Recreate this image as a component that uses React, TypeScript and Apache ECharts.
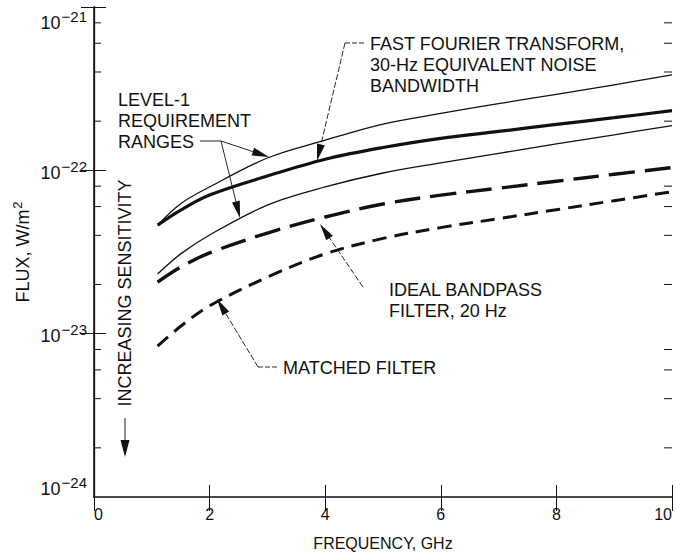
import React, { useEffect, useRef } from "react";
import * as echarts from "echarts";

// ---- data ----
const freqGHz = [1.1, 1.5, 2, 3, 4, 5, 6, 7, 8, 9, 10];
const levelUpper = [4.62e-23, 6.25e-23, 7.91e-23, 1.19e-22, 1.53e-22, 1.92e-22, 2.23e-22, 2.56e-22, 2.92e-22, 3.34e-22, 3.84e-22];
const fftNoise = [4.62e-23, 5.71e-23, 7.06e-23, 9.23e-23, 1.17e-22, 1.38e-22, 1.57e-22, 1.73e-22, 1.91e-22, 2.1e-22, 2.32e-22];
const levelLower = [2.32e-23, 3.08e-23, 4.02e-23, 6.13e-23, 7.91e-23, 9.63e-23, 1.11e-22, 1.27e-22, 1.45e-22, 1.65e-22, 1.88e-22];
const idealBandpass = [2.07e-23, 2.56e-23, 3.12e-23, 4.13e-23, 5.18e-23, 6.22e-23, 7.05e-23, 7.77e-23, 8.58e-23, 9.46e-23, 1.04e-22];
const matchedFilter = [8.4e-24, 1.11e-23, 1.48e-23, 2.22e-23, 3.08e-23, 3.83e-23, 4.46e-23, 5.06e-23, 5.74e-23, 6.52e-23, 7.4e-23];

const xTickValues = [0, 2, 4, 6, 8, 10];
const yMin = 1e-24;
const yMax = 1e-21;
const minorTickValues = [
  2e-24, 4e-24, 6e-24, 8e-24,
  2e-23, 4e-23, 6e-23, 8e-23,
  2e-22, 4e-22, 6e-22, 8e-22,
];

const FONT = '"Liberation Sans", Arial, Helvetica, sans-serif';
const INK = "#111";

function pairs(ys: number[]) {
  return freqGHz.map((x, i) => [x, ys[i]]);
}

function expText(v: number) {
  const e = Math.round(Math.log10(v));
  return `\u2212${Math.abs(e)}`;
}

function arrow(from: number[], to: number[], dash: number[] | null, len = 17, half = 4) {
  const dx = to[0] - from[0];
  const dy = to[1] - from[1];
  const d = Math.hypot(dx, dy);
  const ux = dx / d;
  const uy = dy / d;
  const bx = to[0] - ux * len;
  const by = to[1] - uy * len;
  return [
    {
      type: "line",
      shape: { x1: from[0], y1: from[1], x2: bx, y2: by },
      style: { stroke: INK, lineWidth: 0.9, lineDash: dash || undefined },
    },
    {
      type: "polygon",
      shape: {
        points: [
          [bx - uy * half, by + ux * half],
          [bx + uy * half, by - ux * half],
          [to[0], to[1]],
        ],
      },
      style: { fill: INK },
    },
  ];
}

function label(text: string, x: number, y: number) {
  return {
    type: "text",
    x,
    y,
    style: {
      text,
      fontSize: 18,
      fontFamily: FONT,
      fill: INK,
      lineHeight: 21,
      verticalAlign: "top",
      align: "left",
    },
  };
}

function seg(x1: number, y1: number, x2: number, y2: number, dash: number[] | null) {
  return {
    type: "line",
    shape: { x1, y1, x2, y2 },
    style: { stroke: INK, lineWidth: 0.9, lineDash: dash || undefined },
  };
}

function baseTok(extraTop: number, extraBottom: number) {
  return { fontSize: 18, fontFamily: FONT, color: INK, fill: INK, padding: [5 + extraTop, 0, extraBottom, 0] };
}
function supTok(extraTop: number, extraBottom: number) {
  return { fontSize: 15, fontFamily: FONT, color: INK, fill: INK, padding: [extraTop, 0, 8 + extraBottom, 1] };
}

export default function App() {
  const ref = useRef<HTMLDivElement>(null);

  useEffect(() => {
    document.body.style.margin = "0";
    const chart = echarts.init(ref.current!, null, { renderer: "svg", width: 676, height: 554 });

    const graphic: any[] = [
      // FFT annotation
      label("FAST FOURIER TRANSFORM,\n30-Hz EQUIVALENT NOISE\nBANDWIDTH", 370, 33),
      seg(345, 43, 366, 43, [5, 2]),
      ...arrow([345, 43], [317, 161], [6, 2]),
      // Level-1 annotation
      label("LEVEL-1\nREQUIREMENT\nRANGES", 118, 89),
      seg(200, 141, 221, 141, null),
      ...arrow([221, 141], [269, 157], null),
      ...arrow([221, 141], [240, 218], null),
      // Ideal bandpass annotation
      label("IDEAL BANDPASS\nFILTER, 20 Hz", 389, 279),
      ...arrow([363, 287], [320, 224], [6, 2]),
      // Matched filter annotation
      label("MATCHED FILTER", 283, 357),
      seg(258, 367, 279, 367, [5, 2]),
      ...arrow([258, 367], [217, 299], [6, 2]),
      // Increasing sensitivity
      {
        type: "text",
        x: 125,
        y: 293,
        rotation: Math.PI / 2,
        style: {
          text: "INCREASING SENSITIVITY",
          fontSize: 18,
          fontFamily: FONT,
          fill: INK,
          align: "center",
          verticalAlign: "middle",
        },
      },
      ...arrow([125, 418], [125, 457], null, 17, 4.5),
    ];

    const lineSeries = (name: string, ys: number[], width: number, dash: any) => ({
      name,
      type: "line",
      data: pairs(ys),
      smooth: 0.35,
      showSymbol: false,
      symbol: "none",
      silent: true,
      lineStyle: { color: INK, width, type: dash, cap: "butt" },
      z: 3,
    });

    chart.setOption({
      animation: false,
      backgroundColor: "#fff",
      textStyle: { fontFamily: FONT, color: INK },
      grid: {
        left: 94,
        right: 4,
        top: 7,
        bottom: 57,
        containLabel: false,
        outerBoundsMode: "none",
      },
      xAxis: [
        {
          type: "value",
          min: xTickValues[0],
          max: xTickValues[xTickValues.length - 1],
          interval: 2,
          position: "bottom",
          name: "FREQUENCY, GHz",
          nameLocation: "middle",
          nameGap: 38,
          nameMoveOverlap: false,
          nameTextStyle: { fontSize: 16, fontFamily: FONT, color: INK },
          axisLine: { show: true, lineStyle: { color: INK, width: 1.5 } },
          axisTick: { show: true, inside: true, length: 12, lineStyle: { color: INK, width: 1 } },
          axisLabel: {
            fontSize: 16,
            fontFamily: FONT,
            color: INK,
            margin: 9,
            hideOverlap: false,
            alignMinLabel: "left",
            alignMaxLabel: "right",
          },
          splitLine: { show: false },
        },
        {
          type: "value",
          min: xTickValues[0],
          max: xTickValues[xTickValues.length - 1],
          interval: 2,
          position: "top",
          axisLine: { show: true, lineStyle: { color: "#444", width: 1 } },
          axisTick: { show: true, inside: true, length: 14, lineStyle: { color: INK, width: 1 } },
          axisLabel: { show: false },
          splitLine: { show: false },
        },
      ],
      yAxis: [
        {
          type: "log",
          logBase: 10,
          min: yMin,
          max: yMax,
          position: "left",
          name: "FLUX, W/m{s|2}",
          nameLocation: "middle",
          nameGap: 60,
          nameMoveOverlap: false,
          nameTextStyle: {
            fontSize: 18,
            fontFamily: FONT,
            color: INK,
            rich: {
              s: { fontSize: 13, fontFamily: FONT, color: INK, padding: [0, 0, 10, 1] },
            },
          },
          axisLine: { show: true, lineStyle: { color: INK, width: 1.5 } },
          axisTick: { show: true, inside: true, length: 12, lineStyle: { color: INK, width: 1 } },
          axisLabel: {
            margin: 7,
            color: INK,
            showMinLabel: false,
            showMaxLabel: true,
            hideOverlap: false,
            formatter: (v: number) => {
              if (v <= yMin * 1.01) return "";
              const exp = expText(v);
              if (v >= yMax * 0.99) return `{bt|10}{st|${exp}}`;
              return `{b|10}{s|${exp}}`;
            },
            rich: {
              b: baseTok(0, 0),
              s: supTok(0, 0),
              bt: baseTok(26, 0),
              st: supTok(26, 0),
            },
          },
          splitLine: { show: false },
          minorTick: { show: false },
        },
        {
          type: "log",
          logBase: 10,
          min: yMin,
          max: yMax,
          position: "right",
          axisLine: { show: true, lineStyle: { color: INK, width: 1.3 } },
          axisTick: { show: true, inside: true, length: 13, lineStyle: { color: INK, width: 1 } },
          axisLabel: { show: false },
          splitLine: { show: false },
        },
      ],
      series: [
        lineSeries("Level-1 requirement (upper)", levelUpper, 1.3, "solid"),
        lineSeries("FFT, 30-Hz equivalent noise bandwidth", fftNoise, 3.2, "solid"),
        lineSeries("Level-1 requirement (lower)", levelLower, 1.3, "solid"),
        lineSeries("Ideal bandpass filter, 20 Hz", idealBandpass, 3.4, [26, 10]),
        lineSeries("Matched filter", matchedFilter, 3, [14, 8]),
        {
          name: "minor ticks",
          type: "custom",
          silent: true,
          clip: false,
          data: minorTickValues.map((v) => [xTickValues[0], v]),
          renderItem: (_params: any, api: any) => {
            const v = api.value(1);
            const l = api.coord([xTickValues[0], v]);
            const r = api.coord([xTickValues[xTickValues.length - 1], v]);
            return {
              type: "group",
              children: [
                {
                  type: "line",
                  shape: { x1: l[0], y1: l[1], x2: l[0] + 7, y2: l[1] },
                  style: { stroke: INK, lineWidth: 1 },
                },
                {
                  type: "line",
                  shape: { x1: r[0] - 8, y1: r[1], x2: r[0], y2: r[1] },
                  style: { stroke: INK, lineWidth: 1 },
                },
              ],
            };
          },
        },
        {
          name: "bottom decade label",
          type: "custom",
          silent: true,
          clip: false,
          data: [[xTickValues[0], yMin]],
          renderItem: (_params: any, api: any) => {
            const c = api.coord([api.value(0), api.value(1)]);
            return {
              type: "text",
              x: c[0] - 7,
              y: c[1] + 1,
              style: {
                text: `{b|10}{s|${expText(yMin)}}`,
                align: "right",
                verticalAlign: "bottom",
                fill: INK,
                fontFamily: FONT,
                fontSize: 18,
                rich: { b: baseTok(0, 0), s: supTok(0, 0) },
              },
            };
          },
        },
      ],
      graphic,
    });

    return () => chart.dispose();
  }, []);

  return <div ref={ref} style={{ width: 676, height: 554 }} />;
}
